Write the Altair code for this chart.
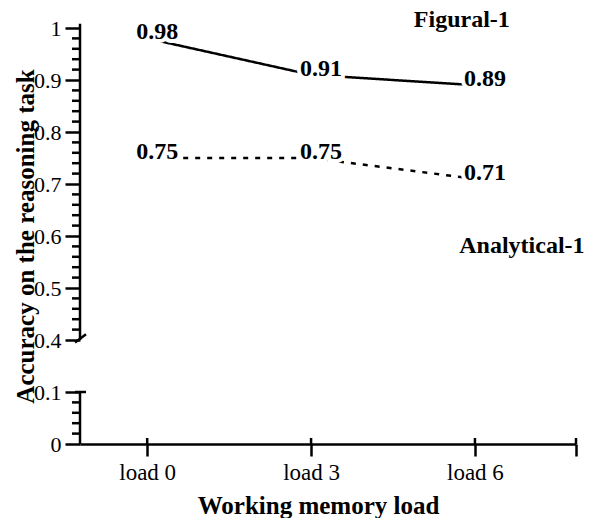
import altair as alt
import pandas as pd

# ---- data ----
loads = [0, 3, 6]
load_end = 7.85
figural = [0.98, 0.91, 0.89]
analytical = [0.75, 0.75, 0.71]
series_names = ["Figural-1", "Analytical-1"]
series_label_load = [5.76, 6.86]
series_label_value = [1.015, 0.58]

major_ticks_display = [0, 0.1, 0.2, 0.3, 0.4, 0.5, 0.6, 0.7, 0.8]
minor_ticks = [0.02, 0.04, 0.06, 0.08,
               0.42, 0.44, 0.46, 0.48, 0.52, 0.54, 0.56, 0.58,
               0.62, 0.64, 0.66, 0.68, 0.72, 0.74, 0.76, 0.78,
               0.82, 0.84, 0.86, 0.88, 0.92, 0.94, 0.96, 0.98]
axis_segments_lo = [0.0, 0.4]
axis_segments_hi = [0.1, 1.008]
break_values = [0.1, 0.4]

FONT = "'Liberation Serif', 'Times New Roman', Times, serif"
BREAK = "datum.{f} <= 0.1001 ? datum.{f} : datum.{f} - 0.2"

rows = []
for name, vals in zip(series_names, [figural, analytical]):
    for l, v in zip(loads, vals):
        rows.append({"series": name, "load": l, "value": v})
df = pd.DataFrame(rows)

xscale = alt.Scale(domain=[-1.23, load_end], nice=False, zero=False)
yscale = alt.Scale(domain=[0, 0.8], nice=False, zero=False)

xaxis = alt.Axis(
    values=loads + [load_end],
    labelExpr="datum.value < 7 ? 'load ' + datum.value : ''",
    title="Working memory load",
    titleFont=FONT, titleFontSize=25, titleFontWeight="bold", titleColor="black",
    titleX=238, titleY=69, titleBaseline="alphabetic", titleAlign="center",
    labelFont=FONT, labelFontSize=23, labelColor="black", labelPadding=5,
    labelFlush=False, labelOverlap=False,
    tickColor="black", tickSize=12, tickWidth=2.5,
    domainColor="black", domainWidth=2.5, grid=False,
)
yaxis = alt.Axis(
    values=major_ticks_display,
    labelExpr="datum.value <= 0.1001 ? format(datum.value, '.1~f') : format(datum.value + 0.2, '.1~f')",
    title="Accuracy on the reasoning task",
    titleFont=FONT, titleFontSize=25, titleFontWeight="bold", titleColor="black",
    titleAngle=270, titleX=-55, titleY=208, titleAlign="center", titleBaseline="middle",
    labelFont=FONT, labelFontSize=22, labelColor="black", labelPadding=4,
    labelOverlap=False, labelFlush=False,
    tickColor="black", tickSize=15, tickWidth=2.5,
    domain=False, grid=False,
)

X = lambda f: alt.X(f, scale=xscale, axis=xaxis)
Y = lambda f: alt.Y(f, scale=yscale, axis=yaxis)

# y axis line segments (broken)
seg_df = pd.DataFrame({"lo": axis_segments_lo, "hi": axis_segments_hi})
axis_line = alt.Chart(seg_df).transform_calculate(
    lo_d=BREAK.format(f="lo"), hi_d=BREAK.format(f="hi")
).mark_rule(color="black", strokeWidth=2.5).encode(
    x=alt.value(0),
    y=Y("lo_d:Q"),
    y2="hi_d:Q",
)

minor = alt.Chart(pd.DataFrame({"v": minor_ticks})).transform_calculate(
    vd=BREAK.format(f="v")
).mark_rule(color="black", strokeWidth=2.5).encode(
    x=alt.value(-8), x2=alt.value(0),
    y=Y("vd:Q"),
)

breaks = alt.Chart(pd.DataFrame({"v": break_values})).transform_calculate(
    a=BREAK.format(f="v") + " - 0.005", b=BREAK.format(f="v") + " + 0.011"
).mark_rule(color="black", strokeWidth=2.5).encode(
    x=alt.value(-5), x2=alt.value(6),
    y=Y("a:Q"),
    y2="b:Q",
)

# small upward part of the x-axis ticks (they cross the axis line)
xtick_up = alt.Chart(pd.DataFrame({"t": loads + [load_end]})).mark_rule(
    color="black", strokeWidth=2.5
).encode(
    x=X("t:Q"),
    y=alt.value(410), y2=alt.value(416),
)

base = alt.Chart(df).transform_calculate(yd=BREAK.format(f="value"))

lines = base.mark_line(color="black", strokeWidth=2.5).encode(
    x=X("load:Q"),
    y=Y("yd:Q"),
    strokeDash=alt.StrokeDash(
        "series:N",
        scale=alt.Scale(domain=series_names, range=[[1, 0], [5, 7]]),
        legend=None,
    ),
    detail="series:N",
)

halo = base.mark_text(
    font=FONT, fontSize=24, fontWeight="bold", color="white",
    stroke="white", strokeWidth=8, dx=10, dy=-6,
).encode(
    x=X("load:Q"),
    y=Y("yd:Q"),
    text=alt.Text("value:Q", format=".2f"),
)
labels = base.mark_text(
    font=FONT, fontSize=24, fontWeight="bold", color="black", dx=10, dy=-6,
).encode(
    x=X("load:Q"),
    y=Y("yd:Q"),
    text=alt.Text("value:Q", format=".2f"),
)

ann_df = pd.DataFrame({"name": series_names, "load": series_label_load, "value": series_label_value})
ann = alt.Chart(ann_df).transform_calculate(yd="datum.value - 0.2").mark_text(
    font=FONT, fontSize=24, fontWeight="bold", color="black", align="center", baseline="middle",
).encode(
    x=X("load:Q"),
    y=Y("yd:Q"),
    text="name:N",
)

chart = alt.layer(lines, axis_line, minor, breaks, xtick_up, halo, labels, ann).properties(
    width=496, height=416,
    autosize=alt.AutoSizeParams(type="none"),
    padding={"left": 72, "top": 20, "right": 16, "bottom": 74},
    background="white",
).configure_view(stroke=None)

chart.save("out.html", embed_options={"renderer": "svg", "actions": False})
